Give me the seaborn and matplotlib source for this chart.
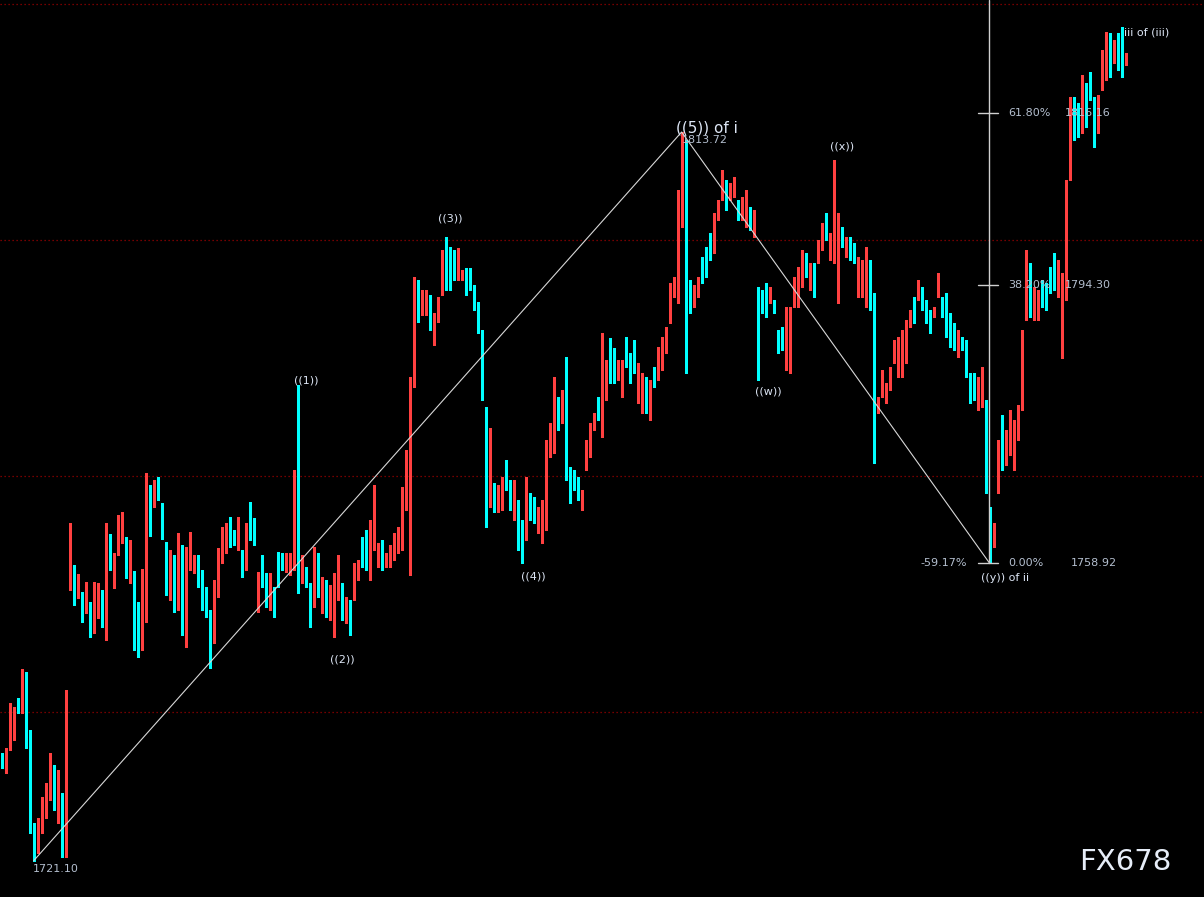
import matplotlib
matplotlib.use("Agg")
import matplotlib.pyplot as plt
import seaborn as sns
import numpy as np

# ---------------- data ----------------
highs = [
    1734.8, 1735.5, 1741.1, 1740.6, 1741.8, 1745.5, 1745.1, 1737.7, 1725.9, 1726.6,
    1729.2, 1731.0, 1734.8, 1733.3, 1732.6, 1729.7, 1742.8, 1764.0, 1758.7, 1757.5,
    1755.2, 1756.5, 1754.0, 1756.5, 1756.4, 1755.5, 1764.0, 1762.6, 1760.2, 1765.0,
    1765.4, 1762.2, 1761.9, 1757.9, 1754.0, 1758.2, 1770.4, 1768.9, 1769.5, 1769.9,
    1766.6, 1761.6, 1760.6, 1760.0, 1762.7, 1761.2, 1761.0, 1762.9, 1760.0, 1760.0,
    1758.0, 1755.9, 1753.0, 1756.8, 1760.8, 1763.5, 1764.0, 1764.8, 1763.1, 1764.8,
    1760.6, 1764.0, 1766.7, 1764.7, 1757.8, 1760.0, 1757.7, 1757.7, 1755.9, 1760.3,
    1760.2, 1760.2, 1760.2, 1770.8, 1781.6, 1760.0, 1758.4, 1756.4, 1761.0, 1760.2,
    1757.2, 1756.8, 1756.1, 1757.7, 1760.0, 1756.4, 1754.6, 1754.2, 1758.9, 1759.3,
    1762.2, 1763.1, 1764.4, 1768.9, 1761.5, 1761.9, 1760.2, 1761.2, 1762.7, 1763.5,
    1768.6, 1773.3, 1782.6, 1795.3, 1794.9, 1793.6, 1793.6, 1793.0, 1790.7, 1792.7,
    1798.7, 1800.4, 1799.1, 1798.7, 1799.0, 1796.2, 1796.4, 1796.4, 1794.3, 1792.1,
    1788.6, 1778.8, 1776.1, 1769.1, 1768.9, 1769.9, 1772.0, 1769.5, 1769.5, 1766.9,
    1764.4, 1769.9, 1767.8, 1767.3, 1766.1, 1766.9, 1774.6, 1776.7, 1782.6, 1780.0,
    1780.9, 1785.1, 1771.1, 1770.8, 1769.9, 1768.2, 1774.6, 1776.7, 1778.0, 1780.0,
    1788.2, 1784.7, 1787.5, 1786.3, 1784.7, 1784.7, 1787.7, 1785.6, 1787.3, 1784.4,
    1783.1, 1782.6, 1782.2, 1783.9, 1786.4, 1787.7, 1788.9, 1794.5, 1795.3, 1806.4,
    1813.72, 1812.7, 1794.9, 1794.3, 1795.3, 1797.8, 1799.1, 1800.9, 1803.4, 1805.1,
    1808.9, 1807.6, 1807.2, 1808.0, 1805.1, 1805.5, 1806.4, 1804.2, 1803.8, 1794.0,
    1793.6, 1794.5, 1794.0, 1792.4, 1788.6, 1788.9, 1791.5, 1791.5, 1795.3, 1796.6,
    1798.7, 1798.3, 1797.1, 1797.1, 1800.0, 1802.2, 1803.4, 1800.9, 1810.2, 1803.4,
    1801.6, 1800.4, 1800.4, 1799.6, 1797.8, 1797.5, 1799.1, 1797.5, 1793.3, 1780.0,
    1783.5, 1781.8, 1783.9, 1787.3, 1787.7, 1788.6, 1789.8, 1791.1, 1792.7, 1794.9,
    1794.0, 1792.4, 1791.1, 1791.5, 1795.8, 1792.7, 1793.3, 1790.7, 1789.4, 1788.6,
    1787.7, 1787.3, 1783.1, 1783.1, 1782.6, 1783.9, 1779.7, 1766.1, 1764.0, 1774.6,
    1777.8, 1775.8, 1778.4, 1777.1, 1779.0, 1788.6, 1798.7, 1797.1, 1794.0, 1793.6,
    1794.9, 1794.5, 1796.6, 1798.3, 1797.5, 1795.8, 1807.6, 1818.2, 1818.2, 1817.4,
    1821.0, 1820.0, 1821.4, 1818.2, 1818.4, 1824.1, 1826.4, 1826.3, 1825.4, 1826.3,
    1827.1, 1823.8,
]
lows = [
    1732.9, 1732.2, 1735.2, 1736.4, 1739.9, 1739.9, 1735.4, 1724.6, 1721.1, 1722.1,
    1724.6, 1726.6, 1728.8, 1727.5, 1725.9, 1721.6, 1721.6, 1755.5, 1753.6, 1754.5,
    1751.4, 1752.6, 1749.5, 1750.0, 1751.9, 1750.8, 1749.1, 1758.0, 1755.8, 1760.0,
    1761.5, 1757.0, 1756.4, 1747.9, 1747.0, 1747.9, 1751.4, 1762.4, 1766.1, 1766.9,
    1762.0, 1754.9, 1754.2, 1752.7, 1753.0, 1749.8, 1748.3, 1758.0, 1757.7, 1755.9,
    1753.0, 1752.1, 1745.6, 1748.8, 1754.6, 1758.9, 1760.2, 1761.0, 1761.2, 1760.6,
    1757.2, 1758.0, 1761.9, 1761.2, 1752.7, 1755.9, 1753.3, 1753.0, 1752.1, 1755.9,
    1758.0, 1757.8, 1757.4, 1758.0, 1755.1, 1756.4, 1755.9, 1750.8, 1753.3, 1754.6,
    1752.6, 1752.1, 1751.7, 1749.5, 1754.2, 1751.7, 1751.3, 1749.8, 1754.2, 1756.8,
    1758.4, 1758.0, 1756.8, 1760.6, 1758.4, 1758.0, 1758.4, 1758.4, 1759.3, 1760.2,
    1760.6, 1765.7, 1757.4, 1781.3, 1789.6, 1790.5, 1790.5, 1788.6, 1786.6, 1789.6,
    1793.0, 1793.6, 1793.6, 1794.9, 1794.9, 1794.9, 1793.0, 1793.6, 1791.1, 1788.2,
    1779.7, 1763.5, 1766.1, 1765.4, 1765.4, 1765.7, 1768.2, 1765.7, 1764.4, 1760.6,
    1758.9, 1761.9, 1764.4, 1764.0, 1762.7, 1761.5, 1763.1, 1772.4, 1772.9, 1775.8,
    1776.7, 1769.5, 1766.6, 1768.2, 1766.9, 1765.7, 1770.8, 1772.4, 1775.8, 1777.1,
    1775.0, 1779.7, 1781.8, 1781.8, 1782.2, 1780.0, 1783.9, 1781.8, 1783.1, 1779.3,
    1778.0, 1778.0, 1777.1, 1781.3, 1782.2, 1783.5, 1785.6, 1789.4, 1792.7, 1792.0,
    1801.6, 1783.1, 1790.7, 1791.5, 1792.7, 1794.5, 1795.3, 1797.5, 1798.3, 1802.5,
    1805.1, 1803.8, 1805.1, 1805.5, 1802.5, 1802.5, 1801.6, 1801.3, 1800.4, 1782.2,
    1790.7, 1790.2, 1792.0, 1790.7, 1785.6, 1786.0, 1783.5, 1783.1, 1791.5, 1791.5,
    1794.0, 1795.3, 1793.6, 1792.7, 1797.1, 1798.7, 1800.0, 1797.5, 1797.1, 1792.0,
    1799.1, 1797.8, 1797.5, 1797.1, 1792.7, 1792.7, 1791.5, 1791.1, 1771.6, 1778.0,
    1780.0, 1779.3, 1780.9, 1784.4, 1782.6, 1782.6, 1784.4, 1788.9, 1789.4, 1792.4,
    1791.1, 1789.4, 1788.2, 1790.2, 1792.7, 1790.2, 1787.7, 1786.4, 1786.0, 1785.1,
    1786.0, 1782.6, 1779.3, 1779.7, 1778.4, 1778.8, 1767.8, 1758.92, 1761.0, 1767.8,
    1770.8, 1771.4, 1772.7, 1770.8, 1774.6, 1778.4, 1789.8, 1790.2, 1789.8, 1789.8,
    1791.5, 1791.1, 1793.3, 1793.6, 1792.7, 1785.0, 1792.4, 1807.6, 1812.7, 1813.1,
    1813.6, 1814.4, 1817.8, 1811.8, 1813.6, 1819.1, 1820.3, 1820.7, 1822.5, 1821.6,
    1820.7, 1822.2,
]
# r = up bar (red), c = down bar (cyan)
directions = (
    "crrrcrcccr" "rrrcrcrrcr" "crcrrcrcrr" "rcrccrrcrc" "ccrcrcrrrc"
    "cccrrrrccr" "crccrccrcc" "crrrcrccrc" "rcrrrcrcrr" "ccrrrcrrrr"
    "rrrrcrrcrr" "rcccrrcccc" "ccrcrrccrc" "crccrrrrrc" "rccccrrrrc"
    "rrccrrcccr" "rcrcrrrrrr" "rccrrcccrr" "rcrrcrrcrc" "ccrcccrrrr"
    "rcrcrrcrrr" "crccrrrccr" "rrrrrrrrcr" "cccrrccccr" "ccccrrccrr"
    "crrrrrrcrr" "ccccrrrrcc" "rcccrrrcrc" "cr"
)

# Elliott wave pivots (bar index, price)
wave_idx = [8, 170, 247]
wave_price = [1721.10, 1813.72, 1758.92]

grid_levels = [1740, 1770, 1800, 1830]

fib_pct = ["61.80%", "38.20%", "0.00%"]
fib_price = [1816.16, 1794.30, 1758.92]
fib_ext_label = "-59.17%"

wave_labels = ["((1))", "((2))", "((3))", "((4))", "((w))", "((x))", "((y)) of ii"]
wave_label_x = [76.1, 85.1, 112.1, 132.9, 191.6, 210.1, 250.9]
wave_label_y = [1782.1, 1746.7, 1802.7, 1757.2, 1780.8, 1811.9, 1757.0]

# ---------------- style ----------------
sns.set_theme(style="dark")
plt.rcParams["font.family"] = ["DejaVu Sans"]

RED = "#ff4040"
CYAN = "#00ffff"
TXT = "#dde6f5"
GRAY = "#b4bfcf"

fig = plt.figure(figsize=(12.04, 8.97), dpi=100)
fig.patch.set_facecolor("black")
ax = fig.add_axes([0, 0, 1, 1])
ax.set_facecolor("black")

n = len(highs)
idx = np.arange(n)
cols = [RED if d == "r" else CYAN for d in directions[:n]]

XMIN, XMAX = -0.4, 300.6
YMIN, YMAX = 1716.5, 1830.5
ax.set_xlim(XMIN, XMAX)
ax.set_ylim(YMIN, YMAX)

# grid
for g in grid_levels:
    ax.axhline(g, color="#9a0000", lw=0.9, ls=(0, (1, 2.2)), zorder=1)

# bars
ax.vlines(idx, lows, highs, colors=cols, lw=1.9, zorder=3, antialiased=False)

# zigzag wave line
sns.lineplot(x=wave_idx, y=wave_price, sort=False, estimator=None, ax=ax,
             color="#d8d8d8", lw=0.8, zorder=4, legend=False)

# fibonacci tool
fx = wave_idx[2] - 0.15
ax.plot([fx, fx], [wave_price[2], YMAX], color="#cfcfcf", lw=1.0, zorder=4)
for p in fib_price:
    ax.plot([fx - 2.75, fx + 2.25], [p, p], color="#cfcfcf", lw=1.0, zorder=4)

fs_small = 8
for pct, p in zip(fib_pct, fib_price):
    ax.text(251.6, p, pct, color=GRAY, fontsize=fs_small, ha="left", va="center", zorder=5)
    xv = 267.35 if pct == "0.00%" else 265.85
    ax.text(xv, p, f"{p:.2f}", color=GRAY, fontsize=fs_small, ha="left", va="center", zorder=5)
ax.text(229.6, fib_price[2], fib_ext_label, color=GRAY, fontsize=fs_small,
        ha="left", va="center", zorder=5)

# wave labels
for lab, x, y in zip(wave_labels, wave_label_x, wave_label_y):
    ax.text(x, y, lab, color=TXT, fontsize=8, ha="center", va="center", zorder=5)

ax.text(176.4, 1814.2, "((5)) of i", color=TXT, fontsize=11, ha="center", va="center", zorder=5)
ax.text(170.1, 1812.7, f"{wave_price[1]:.2f}", color=GRAY, fontsize=fs_small,
        ha="left", va="center", zorder=5)
ax.text(7.85, 1720.0, f"{wave_price[0]:.2f}", color=GRAY, fontsize=fs_small,
        ha="left", va="center", zorder=5)
ax.text(280.6, 1826.4, "iii of (iii)", color=TXT, fontsize=8, ha="left", va="center", zorder=5)

# watermark
ax.text(280.85, 1720.9, "FX678", color="#e6edf8", fontsize=21, ha="center", va="center", zorder=6)

ax.set_xticks([])
ax.set_yticks([])
for s in ax.spines.values():
    s.set_visible(False)
ax.grid(False)

fig.savefig("out.png", dpi=100, facecolor="black")
